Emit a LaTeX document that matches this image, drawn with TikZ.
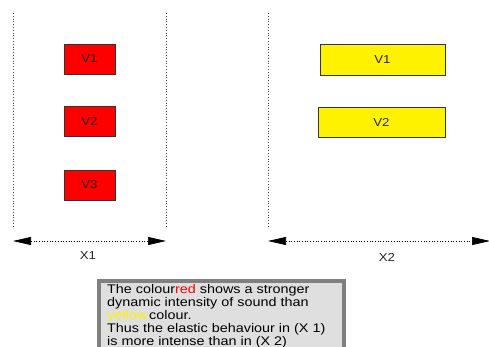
\documentclass[tikz,border=0pt]{standalone}
\usepackage{fontspec}
\setmainfont{Liberation Sans}
\newfontfamily\widefont[FakeStretch=1.15]{Liberation Sans}
\usetikzlibrary{arrows.meta}
\tikzset{
  sep/.style={draw=black!70, dotted, line width=0.8pt},
  redbox/.style={draw=black!80, fill=red, line width=0.6pt, inner sep=0pt, font=\widefont\fontsize{11.5}{13}\selectfont, text=black!85},
  yelbox/.style={draw=black!80, fill=yellow, line width=0.6pt, inner sep=0pt, font=\widefont\fontsize{11.5}{13}\selectfont, text=black!85},
  dimline/.style={dotted, line width=0.7pt, {Triangle[length=18pt,width=8pt]}-{Triangle[length=18pt,width=8pt]}},
  dimlabel/.style={font=\widefont\fontsize{11.5}{13}\selectfont, inner sep=0pt, text=black!85},
  notebox/.style={draw=gray, fill=gray!25, line width=3.5pt},
  notetext/.style={anchor=north west, inner sep=0pt, align=left, font=\widefont\fontsize{12.5}{13}\selectfont}
}
\begin{document}
\begin{tikzpicture}[x=1pt, y=-1pt]
\useasboundingbox (0,0) rectangle (489,347);
\clip (0,0) rectangle (489,347);
% separators
\coordinate (s1t) at (13,13);  \coordinate (s1b) at (13,228);
\coordinate (s2t) at (166,13); \coordinate (s2b) at (166,228);
\coordinate (s3t) at (268,13); \coordinate (s3b) at (268,228);
\draw[sep] (s1t) -- (s1b);
\draw[sep] (s2t) -- (s2b);
\draw[sep] (s3t) -- (s3b);
% red boxes
\node[redbox, minimum width=51pt, minimum height=30pt] (r1) at (89.5,59) {V1};
\node[redbox, minimum width=51pt, minimum height=30pt] (r2) at (89.5,121) {V2};
\node[redbox, minimum width=51pt, minimum height=30pt] (r3) at (89.5,185) {V3};
% yellow boxes
\node[yelbox, minimum width=125pt, minimum height=31pt] (y1) at (382.5,59.5) {V1};
\node[yelbox, minimum width=127pt, minimum height=30pt] (y2) at (381.5,122) {V2};
% dimension arrows
\coordinate (a1l) at (13,241); \coordinate (a1r) at (166,241);
\coordinate (a2l) at (268,241); \coordinate (a2r) at (490,241);
\draw[dimline] (a1l) -- (a1r);
\draw[dimline] (a2l) -- (a2r);
\node[dimlabel] (x1) at (88,256) {X1};
\node[dimlabel] (x2) at (387,257) {X2};
% note box
\draw[notebox] (99,281) rectangle (344,365);
\node[notetext] (note) at (107,284) {The colour\textcolor{red}{red} shows a stronger\\
dynamic intensity of sound than\\
\textcolor{yellow}{yellow}\,colour.\\
Thus the elastic behaviour in (X 1)\\
is more intense than in (X 2)};
\end{tikzpicture}
\end{document}
